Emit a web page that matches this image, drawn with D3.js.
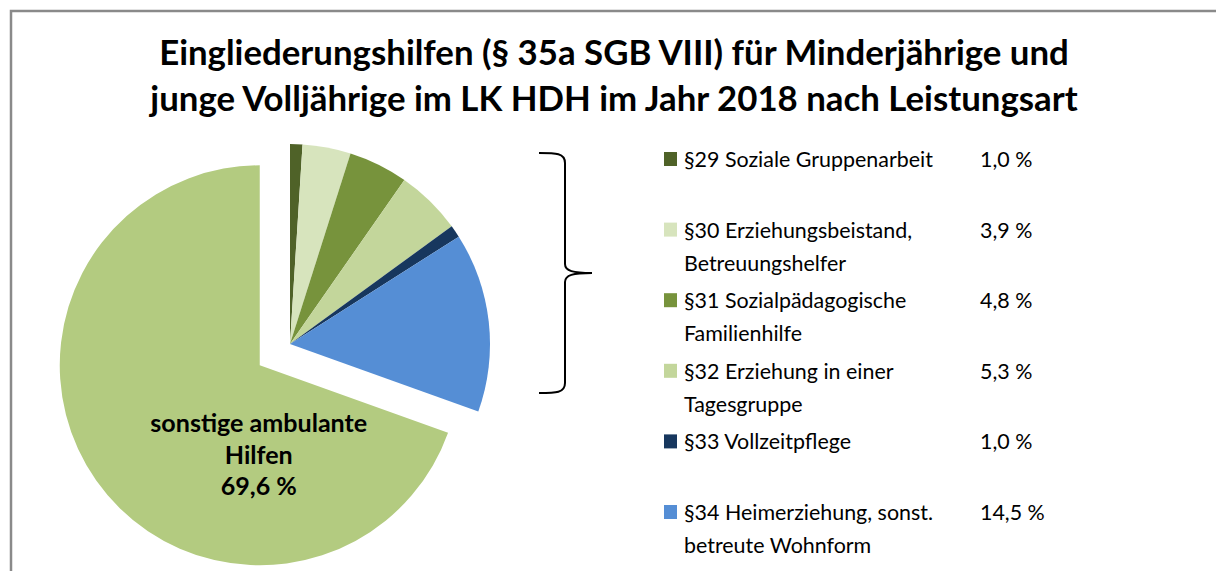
<!DOCTYPE html>
<html>
<head>
<meta charset="utf-8">
<script src="https://cdn.jsdelivr.net/npm/d3@7"></script>
<style>
    body { margin: 0; background: #fff; }
    text { font-family: Lato, "Open Sans", sans-serif; fill: #000; }
</style>
</head>
<body>
<div id="chart"></div>
<script>
// chart data
var titleLines = ["Eingliederungshilfen (§ 35a SGB VIII) für Minderjährige und",
                  "junge Volljährige im LK HDH im Jahr 2018 nach Leistungsart"];
var categories = [
    ["§29 Soziale Gruppenarbeit"],
    ["§30 Erziehungsbeistand,", "Betreuungshelfer"],
    ["§31 Sozialpädagogische", "Familienhilfe"],
    ["§32 Erziehung in einer", "Tagesgruppe"],
    ["§33 Vollzeitpflege"],
    ["§34 Heimerziehung, sonst.", "betreute Wohnform"],
    ["sonstige ambulante", "Hilfen"]
];
var values = [1.0, 3.9, 4.8, 5.3, 1.0, 14.5, 69.6];
var sliceColors = ["#4f6228", "#d7e4bd", "#77933c", "#c3d69b", "#17375e", "#558ed5", "#b3cb80"];

var width = 1216, height = 571;
var cx = 290, cy = 344, radius = 200, explode = 37;

var de = d3.formatLocale({ decimal: ",", thousands: ".", grouping: [3], currency: ["", " €"] });
var pct = function(v) { return de.format(".1f")(v) + " %"; };

var svg = d3.select("#chart")
    .append("svg")
    .attr("width", width)
    .attr("height", height);

// frame (only left and top edge visible)
svg.append("path")
    .attr("d", "M11," + height + " V11 H" + width)
    .attr("fill", "none")
    .attr("stroke", "#8a8a8a")
    .attr("stroke-width", 2.5);

// fit a text selection to a target width
function fitSize(sel, target, base) {
    sel.style("font-size", base + "px");
    var w = sel.node().getComputedTextLength();
    return base * target / w;
}

// title
var title = svg.append("g").attr("class", "title");
var t0 = title.append("text")
    .attr("x", 614).attr("y", 65)
    .attr("text-anchor", "middle")
    .style("font-weight", "bold")
    .text(titleLines[0]);
var titleSize = fitSize(t0, 910, 30);
title.selectAll("text.tl")
    .data(titleLines)
    .join("text")
    .attr("class", "tl")
    .attr("x", 614)
    .attr("y", function(d, i) { return 65 + i * 46; })
    .attr("text-anchor", "middle")
    .style("font-weight", "bold")
    .style("font-size", titleSize + "px")
    .text(function(d) { return d; });
t0.remove();

// pie
var color = d3.scaleOrdinal().domain(d3.range(values.length)).range(sliceColors);
var pie = d3.pie().sort(null).value(function(d) { return d; });
var arc = d3.arc().innerRadius(0).outerRadius(radius);
var arcs = pie(values);
var last = values.length - 1;

function offset(d, i) {
    if (i != last) return [0, 0];
    var a = (d.startAngle + d.endAngle) / 2;
    return [explode * Math.sin(a), -explode * Math.cos(a)];
}

var pieG = svg.append("g")
    .attr("transform", "translate(" + cx + "," + cy + ")");

pieG.selectAll("path")
    .data(arcs)
    .join("path")
    .attr("d", arc)
    .attr("fill", function(d, i) { return color(i); })
    .attr("transform", function(d, i) {
        var o = offset(d, i);
        return "translate(" + o[0] + "," + o[1] + ")";
    });

// label in the big slice
var bigOff = offset(arcs[last], last);
var labelSize = null;
var lab = pieG.append("g")
    .attr("transform", "translate(" + (bigOff[0] - 1) + "," + (bigOff[1] + 67) + ")")
    .style("font-weight", "bold");
var labLines = categories[last].concat([pct(values[last])]);
var labText = lab.selectAll("text")
    .data(labLines)
    .join("text")
    .attr("text-anchor", "middle")
    .attr("y", function(d, i) { return i * 31.5; })
    .text(function(d) { return d; });
labelSize = fitSize(d3.select(labText.nodes()[0]), 217, 20);
labText.style("font-size", labelSize + "px");

// brace
svg.append("path")
    .attr("d", "M539,153 C556,153 565,153 565,163 V264 C565,271 573,273 592,273 " +
               "C573,273 565,275 565,282 V383 C565,393 556,393 539,393")
    .attr("fill", "none")
    .attr("stroke", "#000")
    .attr("stroke-width", 2);

// legend
var rowY = d3.scaleLinear().domain([0, last - 1]).range([167, 520]);
var legend = svg.append("g").attr("class", "legend");
var rows = legend.selectAll("g.row")
    .data(d3.range(last))
    .join("g")
    .attr("class", "row")
    .attr("transform", function(i) { return "translate(0," + rowY(i) + ")"; });

rows.append("rect")
    .attr("x", 664)
    .attr("y", -15)
    .attr("width", 13)
    .attr("height", 14)
    .attr("fill", function(i) { return color(i); });

var legendSize = fitSize(rows.filter(function(i) { return i == 0; })
    .append("text").attr("class", "probe").text(categories[0][0]), 249, 20);
legend.selectAll("text.probe").remove();

rows.each(function(i) {
    var g = d3.select(this);
    g.selectAll("text.cat")
        .data(categories[i])
        .join("text")
        .attr("class", "cat")
        .attr("x", 684)
        .attr("y", function(d, j) { return j * 33; })
        .style("font-size", legendSize + "px")
        .text(function(d) { return d; });
    g.append("text")
        .attr("x", 980)
        .attr("y", 0)
        .style("font-size", legendSize + "px")
        .text(pct(values[i]));
});
</script>
</body>
</html>
